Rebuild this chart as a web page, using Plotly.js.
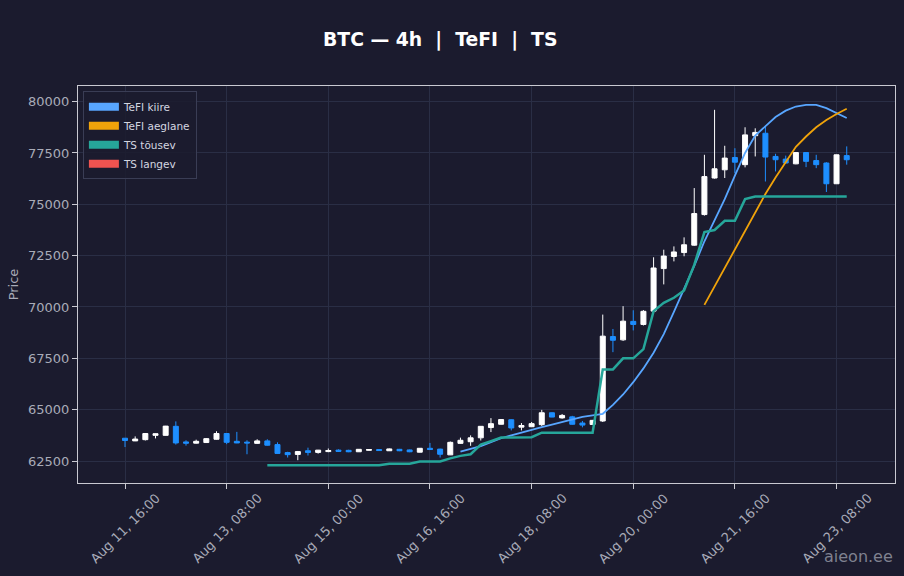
<!DOCTYPE html>
<html>
<head>
<meta charset="utf-8">
<script src="https://cdn.plot.ly/plotly-3.0.1.min.js"></script>
<style>
  html, body { margin: 0; padding: 0; background: #1b1b2e; }
  #chart { width: 904px; height: 576px; }
</style>
</head>
<body>
<div id="chart"></div>
<script>
// ---- data (4h candles, first candle Aug 11 16:00) ----
const startTime = "2024-08-11T16:00:00";
const candleHours = 4;

const openP = [63610,63480,63540,63750,63750,64190,63430,63370,63400,63560,
  63840,63460,63420,63360,63480,63300,62910,62820,63000,62920,
  62960,63030,63020,62950,63020,63060,63000,63070,63040,62930,
  63120,63080,62800,63360,63440,63630,64130,64290,64510,64150,
  64170,64270,64850,64600,64650,64350,64280,64450,68560,68400,
  69300,69150,69800,71870,72460,72650,73010,74500,76280,76680,
  77280,76930,78340,78460,77330,77200,76970,77520,77130,77010,
  76000,77370];
const highP = [63620,63700,63850,63840,64210,64430,63510,63540,63620,63950,
  63850,63920,63510,63560,63560,63410,62950,62990,63150,63040,
  63110,63070,63050,63080,63080,63080,63110,63090,63060,63130,
  63380,63100,63450,63640,63750,64200,64590,64540,64530,64350,
  64400,64990,64870,64790,64700,64450,64500,69630,68930,70040,
  69840,69850,72420,72790,72950,73390,75790,77410,79600,77850,
  77730,78750,78700,78820,77460,77370,77540,77530,77410,77050,
  77420,77820];
const lowP = [63180,63470,63500,63600,63740,63300,63250,63350,63380,63540,
  63320,63370,62830,63340,63250,62850,62670,62540,62770,62860,
  62930,62940,62930,62940,63000,62990,62990,62980,62930,62920,
  63040,62670,62790,63340,63240,63500,63910,64280,63990,63990,
  64160,64200,64630,64560,64270,64140,64270,64400,67800,68350,
  68860,69100,69700,71100,72220,72470,72980,74450,76250,76280,
  76520,76800,77330,76110,76600,76980,76950,76810,76760,75600,
  75990,76930];
const closeP = [63500,63570,63840,63830,64200,63380,63370,63460,63590,63840,
  63410,63380,63380,63480,63270,62870,62810,62960,62920,63030,
  63010,62970,62950,63070,63060,63010,63090,63000,62950,63120,
  63060,62830,63410,63510,63630,64190,64320,64520,64110,64230,
  64320,64850,64640,64720,64290,64250,64480,68580,68380,69310,
  69150,69790,71900,72480,72680,73030,74550,76350,76730,77250,
  77050,78380,78500,77300,77170,77010,77520,77090,76930,76000,
  77410,77170];

// TeFI kiire (fast) – starts at candle 33
const tefiFast = [
  null,null,null,null,null,null,null,null,null,null,
  null,null,null,null,null,null,null,null,null,null,
  null,null,null,null,null,null,null,null,null,null,
  null,null,null,62960,63080,63230,63420,63610,63750,63890,
  64020,64150,64270,64390,64520,64650,64720,64800,65230,65740,
  66340,67010,67770,68680,69760,70850,72000,73200,74200,75250,
  76400,77500,78350,78800,79250,79560,79760,79840,79840,79680,
  79450,79200];

// TeFI aeglane (slow) – starts at candle 57
const tefiSlow = [
  null,null,null,null,null,null,null,null,null,null,
  null,null,null,null,null,null,null,null,null,null,
  null,null,null,null,null,null,null,null,null,null,
  null,null,null,null,null,null,null,null,null,null,
  null,null,null,null,null,null,null,null,null,null,
  null,null,null,null,null,null,null,70100,71000,71900,
  72800,73700,74600,75500,76300,77050,77800,78300,78750,79100,
  79400,79650];

// TS tõusev (rising trailing stop) – starts at candle 14
const tsUp = [
  null,null,null,null,null,null,null,null,null,null,
  null,null,null,null,62300,62300,62300,62300,62300,62300,
  62300,62300,62300,62300,62300,62300,62370,62370,62370,62480,
  62480,62480,62630,62750,62830,63300,63470,63640,63650,63660,
  63660,63880,63880,63880,63880,63880,63880,66960,66960,67500,
  67500,67950,69800,70200,70450,70800,72050,73650,73750,74200,
  74200,75250,75380,75380,75380,75380,75380,75380,75380,75380,
  75380,75380];

// TS langev (falling trailing stop) – no values in this window
const tsDown = new Array(72).fill(null);

const tickVals = ["2024-08-11 16:00","2024-08-13 08:00","2024-08-15 00:00","2024-08-16 16:00",
  "2024-08-18 08:00","2024-08-20 00:00","2024-08-21 16:00","2024-08-23 08:00"];
const tickText = ["Aug 11, 16:00","Aug 13, 08:00","Aug 15, 00:00","Aug 16, 16:00",
  "Aug 18, 08:00","Aug 20, 00:00","Aug 21, 16:00","Aug 23, 08:00"];

// ---- build time axis ----
function fmt(d) {
  const p = n => String(n).padStart(2, "0");
  return d.getUTCFullYear() + "-" + p(d.getUTCMonth() + 1) + "-" + p(d.getUTCDate()) +
    " " + p(d.getUTCHours()) + ":" + p(d.getUTCMinutes());
}
const t0 = Date.parse(startTime + "Z");
const times = openP.map((_, i) => fmt(new Date(t0 + i * candleHours * 3600 * 1000)));

const C = {
  bg: "#1b1b2e",
  grid: "#2a2e45",
  axis: "#c9c9d1",
  tick: "#a9abb8",
  up: "#ffffff",
  down: "#1e8fff",
  fast: "#58a6ff",
  slow: "#f0a30a",
  tsUp: "#26a69a",
  tsDown: "#ef5350"
};

const traces = [
  {
    type: "candlestick", x: times, open: openP, high: highP, low: lowP, close: closeP,
    increasing: { line: { color: C.up, width: 1 }, fillcolor: C.up },
    decreasing: { line: { color: C.down, width: 1 }, fillcolor: C.down },
    showlegend: false, hoverinfo: "skip"
  },
  { type: "scatter", mode: "lines", x: times, y: tefiFast, line: { color: C.fast, width: 1.8 }, showlegend: false },
  { type: "scatter", mode: "lines", x: times, y: tefiSlow, line: { color: C.slow, width: 1.8 }, showlegend: false },
  { type: "scatter", mode: "lines", x: times, y: tsUp, line: { color: C.tsUp, width: 2.5 }, showlegend: false },
  { type: "scatter", mode: "lines", x: times, y: tsDown, line: { color: C.tsDown, width: 2.5 }, showlegend: false },
  // legend swatches
  { type: "scatter", mode: "lines", x: [null], y: [null], name: "TeFI kiire", line: { color: C.fast, width: 8 } },
  { type: "scatter", mode: "lines", x: [null], y: [null], name: "TeFI aeglane", line: { color: C.slow, width: 8 } },
  { type: "scatter", mode: "lines", x: [null], y: [null], name: "TS tõusev", line: { color: C.tsUp, width: 8 } },
  { type: "scatter", mode: "lines", x: [null], y: [null], name: "TS langev", line: { color: C.tsDown, width: 8 } }
];

// rotated, centred x tick labels
const tickAnnotations = tickVals.map((v, i) => ({
  text: tickText[i], x: v, xref: "x", y: -0.1134, yref: "paper",
  xanchor: "center", yanchor: "middle", textangle: -45, showarrow: false,
  font: { size: 13, color: C.tick }
}));

const layout = {
  width: 904, height: 576,
  paper_bgcolor: C.bg, plot_bgcolor: C.bg,
  font: { family: "DejaVu Sans", color: C.tick, size: 13 },
  margin: { l: 78, r: 9, t: 86, b: 93 },
  title: {
    text: "<b>BTC — 4h \u00a0|\u00a0 TeFI \u00a0|\u00a0 TS</b>",
    font: { family: "DejaVu Sans", size: 18.8, color: "#ffffff" },
    x: 0.487, xanchor: "center", xref: "container", y: 0.932, yanchor: "middle"
  },
  xaxis: {
    type: "date",
    range: ["2024-08-10 21:30", "2024-08-24 07:00"],
    rangeslider: { visible: false },
    tickmode: "array", tickvals: tickVals, ticktext: tickText,
    showticklabels: false,
    showgrid: true, gridcolor: C.grid, gridwidth: 1,
    showline: true, linecolor: C.axis, linewidth: 1, mirror: true,
    ticks: "outside", ticklen: 5, tickcolor: C.axis,
    zeroline: false
  },
  yaxis: {
    range: [61430, 80760],
    tickmode: "array",
    tickvals: [62500, 65000, 67500, 70000, 72500, 75000, 77500, 80000],
    ticktext: ["62500", "65000", "67500", "70000", "72500", "75000", "77500", "80000"],
    tickfont: { size: 13, color: C.tick },
    title: { text: "Price", font: { size: 13, color: C.tick }, standoff: 6 },
    showgrid: true, gridcolor: C.grid, gridwidth: 1,
    showline: true, linecolor: C.axis, linewidth: 1, mirror: true,
    ticks: "outside", ticklen: 5, tickcolor: C.axis,
    zeroline: false
  },
  legend: {
    x: 0.006, y: 0.987, xanchor: "left", yanchor: "top",
    bgcolor: "rgba(27,27,46,0.85)", bordercolor: "#3a3d55", borderwidth: 1,
    font: { size: 10.5, color: "#d4d6e0" },
    itemwidth: 30, tracegroupgap: 0
  },
  annotations: tickAnnotations.concat([{
    text: "aieon.ee", xref: "paper", yref: "paper", x: 1.0, y: -0.184,
    xanchor: "right", yanchor: "middle", showarrow: false,
    font: { size: 16, color: "#7f8190" }
  }]),
  showlegend: true
};

Plotly.newPlot("chart", traces, layout, { displayModeBar: false, staticPlot: true });
</script>
</body>
</html>
